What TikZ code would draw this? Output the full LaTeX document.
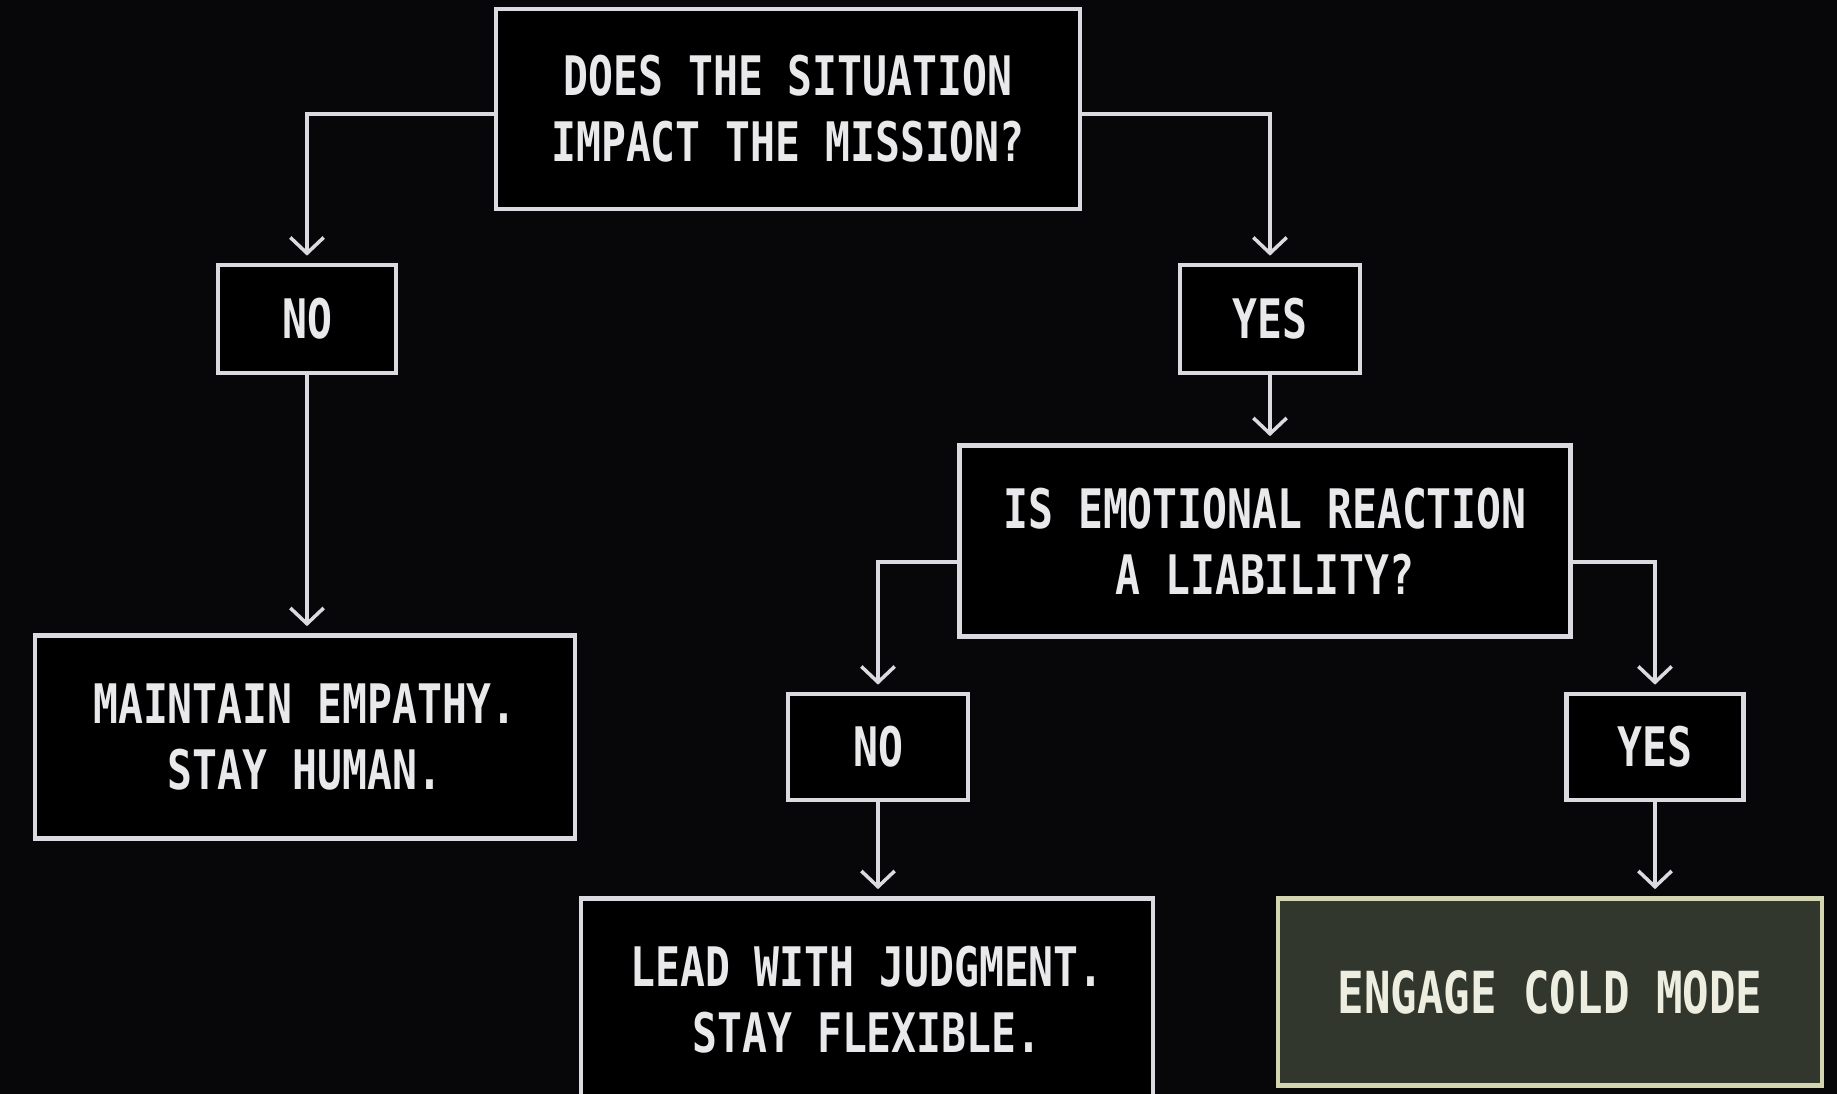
\documentclass[tikz,border=0pt]{standalone}
\usepackage{fontspec}
\setmonofont[FakeStretch=0.76]{DejaVu Sans Mono}
\usetikzlibrary{arrows.meta, calc}
\definecolor{bg}{RGB}{7,7,9}
\definecolor{chalk}{RGB}{218,218,224}
\definecolor{olive}{RGB}{50,55,46}
\definecolor{straw}{RGB}{210,212,178}
\tikzset{
    my-box/.style={
        draw=chalk, line width=2.6pt, fill=black, text=chalk!60!white, align=center,
        font=\ttfamily\bfseries\fontsize{31}{37.5}\selectfont, inner sep=0pt
    },
    my-wire/.style={
        draw=chalk, line width=2pt, -{Straight Barb[length=9pt, width=19pt]}, shorten >=4pt
    },
}

\begin{document}
\begin{tikzpicture}[x=0.02cm, y=-0.02cm]

        % BACKGROUND
        \fill[bg] (0,0) rectangle (1837,1094);
        \useasboundingbox (0,0) rectangle (1837,1094);
        \clip (0,0) rectangle (1837,1094);

        % QUESTIONS
        \node[my-box, minimum width=11.68cm, minimum height=4cm]    (Q1)  at (788,109)  {DOES THE SITUATION\\IMPACT THE MISSION?};
        \node[my-box, minimum width=12.22cm, minimum height=3.82cm] (Q2)  at (1265,541) {IS EMOTIONAL REACTION\\A LIABILITY?};

        % ANSWERS
        \node[my-box, minimum width=3.56cm, minimum height=2.16cm]  (NO1)  at (307,319)  {NO};
        \node[my-box, minimum width=3.6cm, minimum height=2.16cm]   (YES1) at (1270,319) {YES};
        \node[my-box, minimum width=3.6cm, minimum height=2.12cm]   (NO2)  at (878,747)  {NO};
        \node[my-box, minimum width=3.54cm, minimum height=2.12cm]  (YES2) at (1655,747) {YES};

        % OUTCOMES
        \node[my-box, minimum width=10.8cm, minimum height=4.06cm]  (HUMAN) at (305,737)  {MAINTAIN EMPATHY.\\STAY HUMAN.};
        \node[my-box, minimum width=11.44cm, minimum height=4.06cm] (LEAD)  at (867,1000) {LEAD WITH JUDGMENT.\\STAY FLEXIBLE.};
        \node[my-box, draw=straw, fill=olive, text=straw!40!white, font=\ttfamily\bfseries\fontsize{33}{40}\selectfont,
              minimum width=10.88cm, minimum height=3.74cm]         (COLD)  at (1550,992) {ENGAGE COLD MODE};

        % FIRST QUESTION CONNECTIONS
        \draw[my-wire] ($(Q1.west)+(0,5)$) -| (NO1.north);
        \draw[my-wire] ($(Q1.east)+(0,5)$) -| (YES1.north);
        \draw[my-wire] (NO1.south)  -- (NO1.south |- HUMAN.north);
        \draw[my-wire] (YES1.south) -- (YES1.south |- Q2.north);

        % SECOND QUESTION CONNECTIONS
        \draw[my-wire] ($(Q2.west)+(0,21)$) -| (NO2.north);
        \draw[my-wire] ($(Q2.east)+(0,21)$) -| (YES2.north);
        \draw[my-wire] (NO2.south)  -- (NO2.south |- LEAD.north);
        \draw[my-wire] (YES2.south) -- (YES2.south |- COLD.north);

    \end{tikzpicture}
\end{document}
